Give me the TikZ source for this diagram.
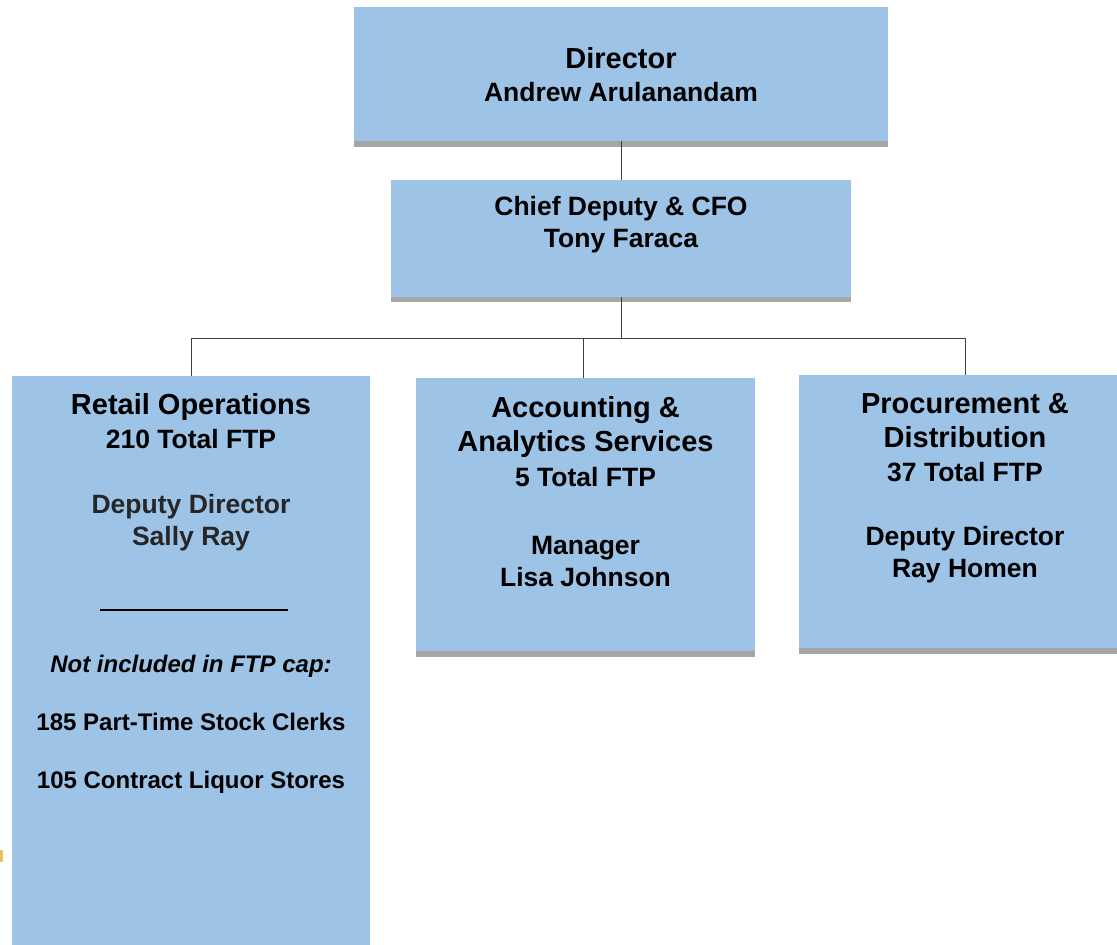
\documentclass[tikz,border=0pt]{standalone}
\usepackage{fontspec}
\setmainfont{Liberation Sans}
\definecolor{boxblue}{HTML}{9DC3E6}
\definecolor{shadowgray}{HTML}{A6A6A6}
\definecolor{wiregray}{HTML}{404040}
\definecolor{softblack}{HTML}{262626}
\definecolor{markgold}{HTML}{E6C65C}
\begin{document}
\begin{tikzpicture}[x=1pt,y=-1pt,
 orgbox/.style={fill=boxblue, inner sep=0pt},
 orgtext/.style={anchor=north, align=center, inner sep=0pt, font=\bfseries\fontsize{26.5}{32}\selectfont},
 wire/.style={draw=wiregray, line width=1pt}]

 \useasboundingbox (0,0) rectangle (1117,945);
 \clip (0,0) rectangle (1117,945);

 % boxes
 \node[orgbox, minimum width=534pt, minimum height=134pt] (dir) at (621,74){};
 \node[orgbox, minimum width=460pt, minimum height=117pt] (chief) at (621,238.5){};
 \node[orgbox, minimum width=358pt, minimum height=580pt] (retail) at (191,666){};
 \node[orgbox, minimum width=339pt, minimum height=273pt] (acct) at (585.5,514.5){};
 \node[orgbox, minimum width=332pt, minimum height=273pt] (proc) at (965,511.5){};
 \fill[shadowgray] (dir.south west) rectangle ([yshift=-6pt]dir.south east);
 \fill[shadowgray] (chief.south west) rectangle ([yshift=-5pt]chief.south east);
 \fill[shadowgray] (acct.south west) rectangle ([yshift=-6pt]acct.south east);
 \fill[shadowgray] (proc.south west) rectangle ([yshift=-6pt]proc.south east);

 % lines
 \coordinate (bus) at (621,338);
 \draw[wire] (dir.south) -- (chief.north);
 \draw[wire] (chief.south) -- (bus);
 \draw[wire] (bus) -| (retail.north);
 \draw[wire] (bus) -| ([xshift=-2.5pt]acct.north);
 \draw[wire] (bus) -| (proc.north);

 % texts
 \node[orgtext] (dirtxt) at (621,47.5){{\fontsize{29}{34}\selectfont Director}\\[1pt]Andrew Arulanandam};
 \node[orgtext] (chieftxt) at (621,196.5){Chief Deputy \& CFO\\Tony Faraca};
 \node[orgtext] (retailtxt) at (191,393.5){{\fontsize{29}{34}\selectfont Retail Operations}\\[2pt]210 Total FTP\\[33pt]{\color{softblack}Deputy Director}\\{\color{softblack}Sally Ray}};
 \node[orgtext] (accttxt) at (585.5,396.5){{\fontsize{29}{34}\selectfont Accounting \&}\\[2pt]{\fontsize{29}{34}\selectfont Analytics Services}\\[3pt]5 Total FTP\\[36pt]Manager\\Lisa Johnson};
 \node[orgtext] (proctxt) at (965,393.5){{\fontsize{29}{34}\selectfont Procurement \&}\\[2pt]{\fontsize{29}{34}\selectfont Distribution}\\[2pt]37 Total FTP\\[32pt]Deputy Director\\Ray Homen};
 \draw[line width=2pt] (100,610) -- (288,610);
 \node[orgtext, font=\bfseries\fontsize{24}{29}\selectfont] (retailnote) at (191,654.5){{\itshape Not included in FTP cap:}\\[29pt]185 Part-Time Stock Clerks\\[29pt]105 Contract Liquor Stores};

 \fill[markgold] (0,850) rectangle (3,862);

\end{tikzpicture}
\end{document}
